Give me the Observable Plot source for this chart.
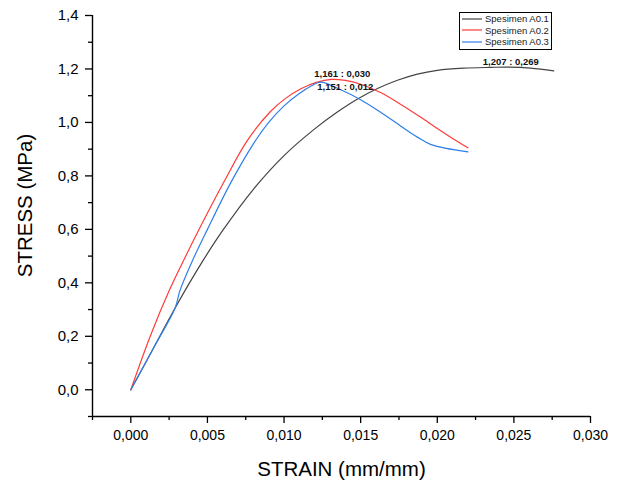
<!DOCTYPE html>
<html>
<head>
<meta charset="utf-8">
<script src="https://cdn.jsdelivr.net/npm/d3@7"></script>
<script src="https://cdn.jsdelivr.net/npm/@observablehq/plot@0.6"></script>
<style>
  body { margin: 0; background: #fff; }
  #wrap { position: relative; width: 621px; height: 480px; font-family: Arial, "Liberation Sans", sans-serif; }
  #legend { position: absolute; left: 459px; top: 12px; width: 91px; border: 1px solid #000; background: #fff;
            font-size: 9.5px; line-height: 11.5px; padding: 0 0 1px 0; color: #222; }
  #legend .row { display: flex; align-items: center; white-space: nowrap; }
  #legend svg { margin: 0 3px 0 2px; }
</style>
</head>
<body>
<div id="wrap"></div>
<script>
// ---- data ----
const seriesNames = ["Spesimen A0.1", "Spesimen A0.2", "Spesimen A0.3"];
const seriesColors = ["#444444", "#ff3b3b", "#2f7fe8"];

const strainA1 = [0, 0.0015, 0.0029, 0.0047, 0.0060, 0.0080, 0.0100, 0.0120, 0.0135, 0.0148, 0.0161, 0.0174, 0.0187, 0.0200, 0.0217, 0.0235, 0.0245, 0.0261, 0.0276];
const stressA1 = [0, 0.158, 0.307, 0.482, 0.596, 0.750, 0.876, 0.976, 1.040, 1.088, 1.127, 1.158, 1.181, 1.195, 1.203, 1.206, 1.207, 1.203, 1.193];

const strainA2 = [0, 0.0013, 0.0025, 0.0035, 0.0044, 0.0061, 0.0076, 0.0091, 0.0101, 0.0111, 0.0121, 0.0131, 0.0140, 0.0150, 0.0163, 0.0176, 0.0189, 0.0200, 0.0210, 0.0220];
const stressA2 = [0, 0.205, 0.370, 0.490, 0.594, 0.780, 0.932, 1.040, 1.090, 1.126, 1.150, 1.161, 1.157, 1.143, 1.112, 1.068, 1.020, 0.977, 0.940, 0.905];

const strainA3 = [0, 0.0015, 0.0029, 0.0032, 0.0040, 0.0050, 0.0065, 0.0080, 0.0090, 0.0100, 0.0110, 0.0118, 0.0124, 0.0137, 0.0150, 0.0163, 0.0176, 0.0187, 0.0196, 0.0220];
const stressA3 = [0, 0.158, 0.307, 0.370, 0.480, 0.600, 0.772, 0.920, 1.000, 1.062, 1.108, 1.137, 1.151, 1.122, 1.085, 1.038, 0.987, 0.945, 0.917, 0.890];

const annLabels = ["1,161 : 0,030", "1,151 : 0,012", "1,207 : 0,269"];
const annStrain = [0.0138, 0.0140, 0.0248];
const annStress = [1.183, 1.131, 1.228];

const xDomain = [-0.0025, 0.030];
const yDomain = [-0.1, 1.4];
const xTicks = [0, 0.005, 0.010, 0.015, 0.020, 0.025, 0.030];
const xMinor = [-0.0025, 0.0025, 0.0075, 0.0125, 0.0175, 0.0225, 0.0275];
const yTicks = [0, 0.2, 0.4, 0.6, 0.8, 1.0, 1.2, 1.4];
const yMinor = [-0.1, 0.1, 0.3, 0.5, 0.7, 0.9, 1.1, 1.3];
const xLabel = "STRAIN (mm/mm)";
const yLabel = "STRESS (MPa)";

// ---- build table ----
const rows = [];
[[strainA1, stressA1], [strainA2, stressA2], [strainA3, stressA3]].forEach(([xs, ys], i) => {
  xs.forEach((s, j) => rows.push({series: seriesNames[i], strain: s, stress: ys[j]}));
});
const ann = annLabels.map((t, i) => ({text: t, strain: annStrain[i], stress: annStress[i]}));

const comma = f => v => d3.format(f)(v).replace(".", ",");
const font = 'Arial, "Liberation Sans", sans-serif';

const chart = Plot.plot({
  width: 621,
  height: 480,
  marginLeft: 92,
  marginRight: 31,
  marginTop: 15,
  marginBottom: 64,
  style: {fontFamily: font, background: "white", color: "#000"},
  x: {domain: xDomain},
  y: {domain: yDomain},
  color: {domain: seriesNames, range: seriesColors},
  marks: [
    Plot.axisX(xTicks, {tickFormat: comma(".3f"), tickSize: 7, tickPadding: 7, fontSize: 14, label: null, strokeWidth: 1.3}),
    Plot.axisX(xMinor, {tickSize: 4, text: null, label: null, strokeWidth: 1.3}),
    Plot.axisY(yTicks, {tickFormat: comma(".1f"), tickSize: 7, tickPadding: 7, fontSize: 15, label: null, strokeWidth: 1.3}),
    Plot.axisY(yMinor, {tickSize: 4, text: null, label: null, strokeWidth: 1.3}),
    Plot.ruleY([yDomain[0]], {stroke: "#000", strokeWidth: 1.4}),
    Plot.ruleX([xDomain[0]], {stroke: "#000", strokeWidth: 1.4}),
    Plot.line(rows, {x: "strain", y: "stress", z: "series", stroke: "series", strokeWidth: 1.2, curve: "catmull-rom"}),
    Plot.text(ann, {x: "strain", y: "stress", text: "text", fontSize: 9.5, fontWeight: "bold", fill: "#111"}),
    Plot.text([xLabel], {frameAnchor: "bottom", lineAnchor: "bottom", dy: 59, fontSize: 20.5, fill: "#000"}),
    Plot.text([yLabel], {frameAnchor: "left", textAnchor: "middle", lineAnchor: "bottom", rotate: -90, dx: -60.5, dy: -10.5, fontSize: 20.5, fill: "#000"})
  ]
});

const wrap = document.getElementById("wrap");
wrap.appendChild(chart);

// legend overlay inside the plot area
const legend = document.createElement("div");
legend.id = "legend";
seriesNames.forEach((n, i) => {
  const row = document.createElement("div");
  row.className = "row";
  row.innerHTML = `<svg width="20" height="6"><line x1="0" x2="20" y1="3" y2="3" stroke="${seriesColors[i]}" stroke-width="1.2"/></svg><span>${n}</span>`;
  legend.appendChild(row);
});
wrap.appendChild(legend);
</script>
</body>
</html>
